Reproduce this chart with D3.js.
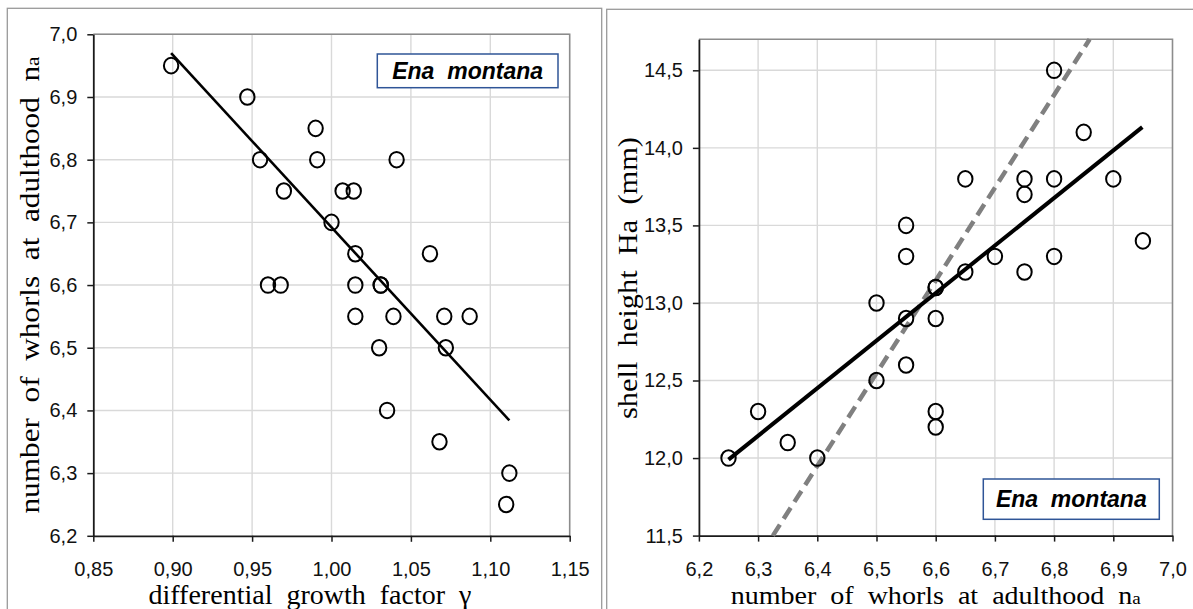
<!DOCTYPE html>
<html>
<head>
<meta charset="utf-8">
<script src="https://cdn.jsdelivr.net/npm/d3@7"></script>
<style>
  body { margin: 0; background: #fff; }
  svg { display: block; }
</style>
</head>
<body>
<div id="chart-area"></div>
<script>
// left panel: differential growth factor vs number of whorls
const leftGamma = [0.899, 0.947, 0.990, 0.955, 0.991, 1.041, 0.970, 1.007, 1.014, 1.000,
  1.015, 1.062, 0.960, 0.968, 1.015, 1.031, 1.031, 1.015, 1.039, 1.071, 1.087,
  1.030, 1.072, 1.035, 1.068, 1.112, 1.110]
const leftWhorls = [6.95, 6.90, 6.85, 6.80, 6.80, 6.80, 6.75, 6.75, 6.75, 6.70,
  6.65, 6.65, 6.60, 6.60, 6.60, 6.60, 6.60, 6.55, 6.55, 6.55, 6.55,
  6.50, 6.50, 6.40, 6.35, 6.30, 6.25]
const leftFitX = [0.899, 1.112]
const leftFitY = [6.970, 6.384]
const leftXTicks = [0.85, 0.90, 0.95, 1.00, 1.05, 1.10, 1.15]
const leftYTicks = [6.2, 6.3, 6.4, 6.5, 6.6, 6.7, 6.8, 6.9, 7.0]

// right panel: number of whorls vs shell height
const rightWhorls = [6.25, 6.30, 6.35, 6.40, 6.50, 6.50, 6.55, 6.55, 6.55, 6.55,
  6.60, 6.60, 6.60, 6.60, 6.60, 6.65, 6.65, 6.70, 6.75, 6.75, 6.75,
  6.80, 6.80, 6.80, 6.85, 6.90, 6.95]
const rightHeight = [12.0, 12.3, 12.1, 12.0, 13.0, 12.5, 13.5, 13.3, 12.9, 12.6,
  13.1, 13.1, 12.9, 12.3, 12.2, 13.8, 13.2, 13.3, 13.8, 13.7, 13.2,
  14.5, 13.8, 13.3, 14.1, 13.8, 13.4]
const rightFitX = [6.25, 6.949]
const rightFitY = [11.99, 14.134]
const rightIsoX = [6.325, 6.86]
const rightIsoY = [11.5, 14.7]
const rightXTicks = [6.2, 6.3, 6.4, 6.5, 6.6, 6.7, 6.8, 6.9, 7.0]
const rightYTicks = [11.5, 12.0, 12.5, 13.0, 13.5, 14.0, 14.5]

const comma = d3.formatLocale({ decimal: ",", thousands: ".", grouping: [3], currency: ["", ""] })

const svg = d3.select("#chart-area").append("svg")
  .attr("width", 1193)
  .attr("height", 609)

// outer panel frames
svg.append("rect")
  .attr("x", 7.3).attr("y", 8.3).attr("width", 594.4).attr("height", 700)
  .attr("fill", "none").attr("stroke", "#9a9a9a").attr("stroke-width", 1.3)
svg.append("rect")
  .attr("x", 606.7).attr("y", 9.3).attr("width", 700).attr("height", 700)
  .attr("fill", "none").attr("stroke", "#9a9a9a").attr("stroke-width", 1.3)

function drawPanel(p) {
  const x = d3.scaleLinear().domain(p.xDomain).range(p.xRange)
  const y = d3.scaleLinear().domain(p.yDomain).range(p.yRange)
  const g = svg.append("g")

  // grid
  g.selectAll(".vgrid").data(p.xTicks.slice(1, -1)).enter().append("line")
    .attr("x1", d => x(d)).attr("x2", d => x(d))
    .attr("y1", p.yRange[0]).attr("y2", p.yRange[1])
    .attr("stroke", "#d9d9d9").attr("stroke-width", 1.4)
  g.selectAll(".hgrid").data(p.yTicks.slice(1)).enter().append("line")
    .attr("x1", p.xRange[0]).attr("x2", p.xRange[1])
    .attr("y1", d => y(d)).attr("y2", d => y(d))
    .attr("stroke", "#d9d9d9").attr("stroke-width", 1.4)

  // plot border (top / right)
  g.append("path")
    .attr("d", `M${p.xRange[0]},${p.yRange[1]}H${p.xRange[1]}V${p.yRange[0]}`)
    .attr("fill", "none").attr("stroke", "#8c8c8c").attr("stroke-width", 1.6)

  const xAxis = g.append("g")
    .attr("transform", `translate(0, ${p.yRange[0]})`)
    .call(d3.axisBottom(x).tickValues(p.xTicks).tickFormat(comma.format(p.fmt))
      .tickSize(6).tickSizeOuter(0).tickPadding(20))
  const yAxis = g.append("g")
    .attr("transform", `translate(${p.xRange[0]}, 0)`)
    .call(d3.axisLeft(y).tickValues(p.yTicks).tickFormat(comma.format(".1f"))
      .tickSize(6).tickSizeOuter(0).tickPadding(10))
  ;[xAxis, yAxis].forEach(a => {
    a.select(".domain").attr("stroke", "#1a1a1a").attr("stroke-width", 1.8)
    a.selectAll(".tick line").attr("stroke", "#1a1a1a").attr("stroke-width", 1.5)
    a.selectAll("text")
      .attr("font-family", "'Liberation Sans', Arial, sans-serif")
      .attr("font-size", "20px")
      .attr("fill", "#111")
  })

  // fitted lines
  p.lines.forEach(l => {
    g.append("line")
      .attr("x1", x(l.xs[0])).attr("y1", y(l.ys[0]))
      .attr("x2", x(l.xs[1])).attr("y2", y(l.ys[1]))
      .attr("stroke", l.color).attr("stroke-width", l.width)
      .attr("stroke-dasharray", l.dash || null)
  })

  // points
  g.selectAll("ellipse").data(p.xs).enter().append("ellipse")
    .attr("cx", d => x(d))
    .attr("cy", (d, i) => y(p.ys[i]))
    .attr("rx", 7.2).attr("ry", 7.8)
    .attr("fill", "none").attr("stroke", "#000").attr("stroke-width", 2)

  // legend box
  g.append("rect")
    .attr("x", p.box[0]).attr("y", p.box[1]).attr("width", p.box[2]).attr("height", p.box[3])
    .attr("fill", "#fff").attr("stroke", "#2f5597").attr("stroke-width", 1.5)
  g.append("text")
    .attr("x", p.box[0] + p.box[2] / 2).attr("y", p.box[1] + p.box[3] / 2 + 8)
    .attr("text-anchor", "middle")
    .attr("font-family", "'Liberation Sans', Arial, sans-serif")
    .attr("font-size", "23px").attr("font-weight", "bold").attr("font-style", "italic")
    .style("white-space", "pre")
    .text("Ena  montana")

  // axis titles
  const serif = "'Liberation Serif', 'Times New Roman', serif"
  const xt = g.append("text")
    .attr("x", p.xTitle.x).attr("y", p.xTitle.y)
    .attr("text-anchor", "middle")
    .attr("font-family", serif).attr("font-size", p.xTitle.size + "px")
    .attr("textLength", p.xTitle.len).attr("lengthAdjust", "spacingAndGlyphs")
    .style("white-space", "pre")
  xt.append("tspan").text(p.xTitle.text)
  if (p.xTitle.sub) xt.append("tspan").attr("font-size", "0.68em").text(p.xTitle.sub)

  const yt = g.append("text")
    .attr("transform", `translate(${p.yTitle.x}, ${p.yTitle.y}) rotate(-90)`)
    .attr("text-anchor", "middle")
    .attr("font-family", serif).attr("font-size", p.yTitle.size + "px")
    .attr("textLength", p.yTitle.len).attr("lengthAdjust", "spacingAndGlyphs")
    .style("white-space", "pre")
  yt.append("tspan").text(p.yTitle.text)
  if (p.yTitle.sub) yt.append("tspan").attr("font-size", "0.68em").text(p.yTitle.sub)
}

drawPanel({
  xDomain: [0.85, 1.15], xRange: [93.3, 569.7],
  yDomain: [6.2, 7.0], yRange: [535.8, 34.3],
  xTicks: leftXTicks, yTicks: leftYTicks, fmt: ".2f",
  xs: leftGamma, ys: leftWhorls,
  lines: [{ xs: leftFitX, ys: leftFitY, color: "#000", width: 2.6 }],
  box: [377.3, 54, 180.7, 33.7],
  xTitle: { x: 310, y: 604, size: 27, len: 323, text: "differential  growth  factor  γ" },
  yTitle: { x: 38.5, y: 285, size: 27, len: 457, text: "number  of  whorls  at  adulthood  n", sub: "a" }
})

drawPanel({
  xDomain: [6.2, 7.0], xRange: [698.9, 1172.5],
  yDomain: [11.5, 14.7], yRange: [535.6, 39.3],
  xTicks: rightXTicks, yTicks: rightYTicks, fmt: ".1f",
  xs: rightWhorls, ys: rightHeight,
  lines: [
    { xs: rightIsoX, ys: rightIsoY, color: "#808080", width: 4.5, dash: "13,7" },
    { xs: rightFitX, ys: rightFitY, color: "#000", width: 4 }
  ],
  box: [983.3, 479, 176, 40.3],
  xTitle: { x: 935.7, y: 604, size: 26, len: 410, text: "number  of  whorls  at  adulthood  n", sub: "a" },
  yTitle: { x: 637, y: 278, size: 27, len: 282, text: "shell  height  Ha  (mm)" }
})
</script>
</body>
</html>
